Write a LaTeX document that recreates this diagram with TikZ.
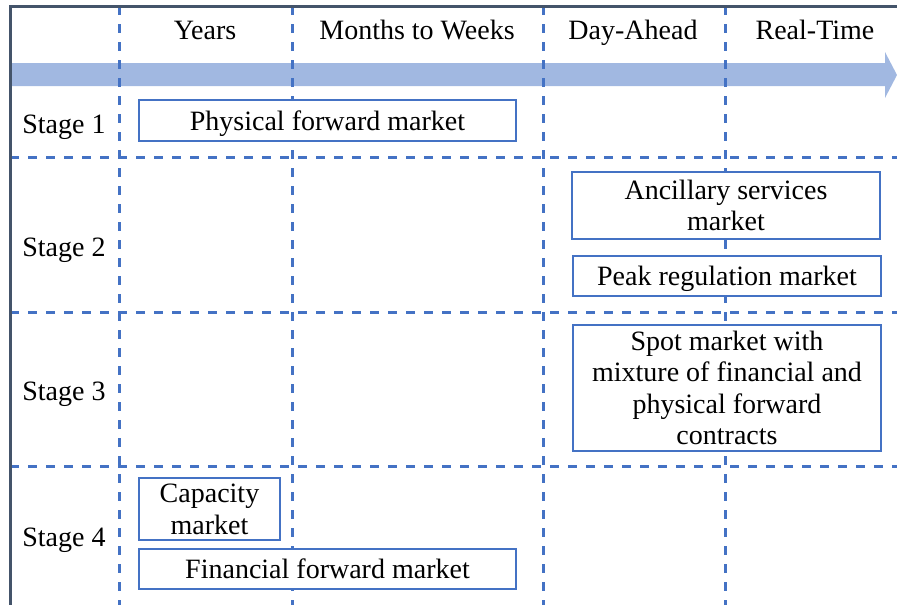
\documentclass[tikz,border=0pt]{standalone}
\usepackage{fontspec}
\setmainfont{Liberation Serif}
\definecolor{gridblue}{HTML}{4472C4}
\definecolor{bandblue}{HTML}{A1B8E1}
\definecolor{framegray}{HTML}{44546A}
\tikzset{
  market/.style={draw=gridblue, line width=1.5pt, fill=white, align=center, inner sep=0pt, text depth=0pt},
  gridline/.style={draw=gridblue, line width=3pt, dash pattern=on 9pt off 9pt},
}
\begin{document}
\begin{tikzpicture}[x=1pt,y=-1pt]
\useasboundingbox (0,0) rectangle (897,605);
    \begin{scope}[font=\fontsize{28}{31.5}\selectfont]
% time arrow
\fill[bandblue] (10,63) -- (885,63) -- (885,52) -- (897,75) -- (885,98) -- (885,86) -- (10,86) -- cycle;
% dashed grid
    \foreach \x in {119,292,543,725}
        \draw[gridline] (\x,6) -- (\x,605);
    \foreach \y in {157,312,466}
        \draw[gridline] (10,\y) -- (897,\y);
\draw[framegray, line width=3pt] (10,605) -- (10,6) -- (897,6);
% columns
\node[anchor=base] (years) at (205,39) {Years};
\node[anchor=base] (months) at (417,39) {Months to Weeks};
\node[anchor=base] (dayahead) at (633,39) {Day-Ahead};
\node[anchor=base] (realtime) at (815,39) {Real-Time};
% rows
\node[anchor=base] (stage1) at (64,133) {Stage 1};
\node[anchor=base] (stage2) at (64,256) {Stage 2};
\node[anchor=base] (stage3) at (64,400) {Stage 3};
\node[anchor=base] (stage4) at (64,546) {Stage 4};
% markets
\node[market, minimum width=377pt, minimum height=41pt] (physical) at (327.5,120.5) {Physical forward market};
\node[market, minimum width=308pt, minimum height=67pt] (ancillary) at (726,205.5) {Ancillary services\\market};
\node[market, minimum width=308pt, minimum height=40pt] (peak) at (727,276) {Peak regulation market};
\node[market, minimum width=308pt, minimum height=126pt] (spot) at (727,388) {Spot market with\\mixture of financial and\\physical forward\\contracts};
\node[market, minimum width=141pt, minimum height=62pt] (capacity) at (209.5,509) {Capacity\\market};
\node[market, minimum width=377pt, minimum height=40pt] (financial) at (327.5,569) {Financial forward market};
%\node at (64,30) {};
\end{scope}
 \end{tikzpicture}
\end{document}
